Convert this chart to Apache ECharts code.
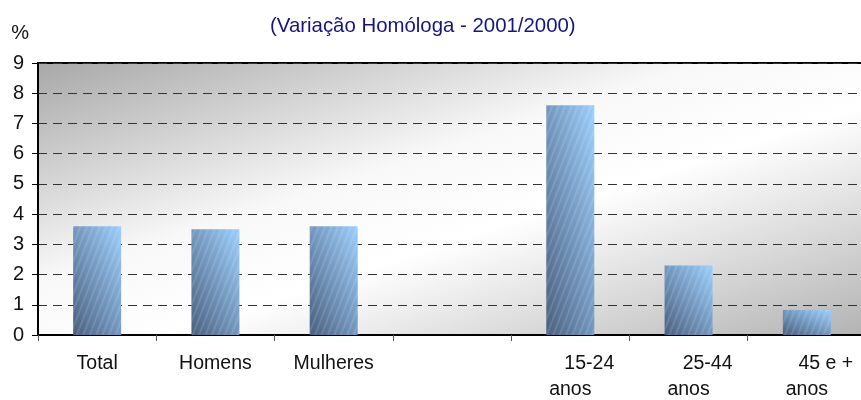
<!DOCTYPE html>
<html style="height: 100%">
<head>
    <meta charset="utf-8">
</head>
<body style="height: 100%; margin: 0">
<div id="container" style="width: 861px; height: 400px"></div>
<script type="text/javascript" src="https://cdn.jsdelivr.net/npm/echarts@6/dist/echarts.min.js"></script>
<script type="text/javascript">
    var categories = ['Total', 'Homens', 'Mulheres', '', '15-24 anos', '25-44 anos', '45 e + anos'];
    var values = [3.6, 3.5, 3.6, '-', 7.6, 2.3, 0.83];
    var yTicks = [0, 1, 2, 3, 4, 5, 6, 7, 8, 9];

    var font = 'Liberation Sans, Arial, sans-serif';
    var plotH = 272;

    // diagonal fill per bar, dark bottom-left to light top-right
    function barFill(p) {
        var h = p.value * plotH / 9, w = 48, n = h * h + w * w;
        return new echarts.graphic.LinearGradient(0, 1, 2 * h * h / n, 1 - 2 * w * w / n, [
            {offset: 0, color: '#4a5f7f'},
            {offset: 1, color: '#9ccffd'}
        ]);
    }

    var dom = document.getElementById('container');
    var myChart = echarts.init(dom);
    var option = {
        animation: false,
        title: {
            text: '(Variação Homóloga - 2001/2000)',
            left: 265,
            top: 11,
            textStyle: {color: '#15157f', fontFamily: font, fontSize: 20.4, fontWeight: 'normal'}
        },
        grid: {
            left: 38, width: 828, top: 63, height: plotH,
            outerBoundsMode: 'none',
            containLabel: false,
            show: true,
            borderColor: '#000',
            borderWidth: 2,
            backgroundColor: new echarts.graphic.LinearGradient(38, 63, 200, 554, [
                {offset: 0, color: '#a8a8a8'},
                {offset: 0.4, color: '#f8f8f8'},
                {offset: 0.58, color: '#ffffff'},
                {offset: 1, color: '#b3b3b3'}
            ], true)
        },
        xAxis: {
            type: 'category',
            data: categories,
            axisLine: {lineStyle: {color: '#000', width: 2}},
            axisTick: {show: true, length: 6, lineStyle: {color: '#555'}},
            axisLabel: {
                interval: 0,
                margin: 16,
                color: '#111',
                fontFamily: font,
                fontSize: 19.5,
                lineHeight: 26,
                formatter: function (v) {
                    var i = v.lastIndexOf(' anos');
                    if (i < 0) return v;
                    return '{a|' + v.slice(0, i) + '}\n{b|anos}';
                },
                rich: {
                    a: {fontFamily: font, fontSize: 19.5, lineHeight: 26, color: '#111', padding: [0, 0, 0, 38]},
                    b: {fontFamily: font, fontSize: 19.5, lineHeight: 26, color: '#111'}
                }
            }
        },
        yAxis: {
            type: 'value',
            min: yTicks[0],
            max: yTicks[yTicks.length - 1],
            interval: 1,
            name: '%',
            nameGap: 20,
            nameTextStyle: {color: '#111', fontFamily: font, fontSize: 20, align: 'right', verticalAlign: 'bottom', padding: [0, 9, 0, 0]},
            axisLine: {show: true, lineStyle: {color: '#000', width: 2}},
            axisTick: {show: true, length: 6, lineStyle: {color: '#000'}},
            axisLabel: {margin: 14, color: '#111', fontFamily: font, fontSize: 20},
            splitLine: {lineStyle: {color: '#333', width: 1, type: [9, 6]}}
        },
        series: [
            {
                type: 'bar',
                data: values,
                barWidth: 48,
                itemStyle: {
                    color: barFill,
                    decal: {
                        symbol: 'rect',
                        color: 'rgba(255,255,255,0.12)',
                        dashArrayX: [1, 0],
                        dashArrayY: [2, 4],
                        rotation: -1.2
                    }
                }
            }
        ]
    };
    myChart.setOption(option);
</script>
</body>
</html>
